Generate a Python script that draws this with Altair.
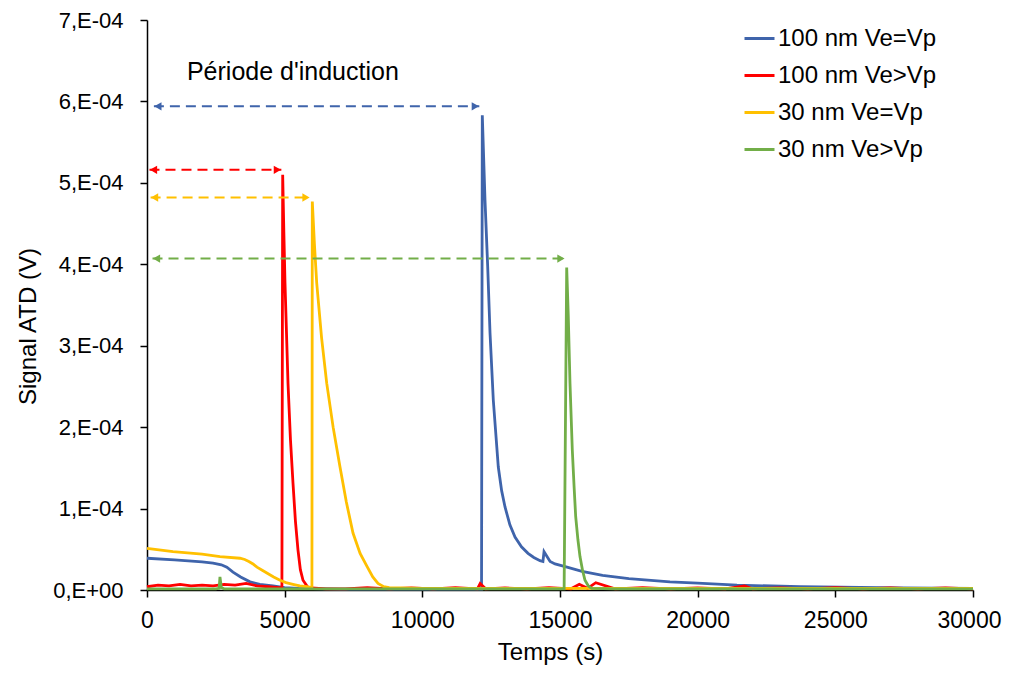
import altair as alt
import pandas as pd

FONT = "Liberation Sans"
SERIES = ["100 nm Ve=Vp", "100 nm Ve>Vp", "30 nm Ve=Vp", "30 nm Ve>Vp"]
COLORS = ["#3F64AB", "#FF0000", "#FFC000", "#72AE48"]

X_TICKS = [0, 5000, 10000, 15000, 20000, 25000, 30000]
Y_TICKS = [0, 1e-4, 2e-4, 3e-4, 4e-4, 5e-4, 6e-4, 7e-4]

blue_t = [0, 1000, 2000, 2400, 2700, 2900, 3124, 3400, 3741, 4100, 4576, 5000, 5500, 7000, 9000, 12150,
          12178, 12276, 12374, 12458, 12578, 12759, 12880, 13003, 13180, 13366, 13600, 13838, 14050,
          14274, 14380, 14420, 14640, 14819, 15254, 15800, 16547, 17500, 18995, 20000, 21429, 23717,
          27350, 30000]
blue_v = [3.9e-5, 3.7e-5, 3.45e-5, 3.3e-5, 3.1e-5, 2.8e-5, 2.2e-5, 1.6e-5, 1.0e-5, 7e-6, 5e-6, 3e-6, 2e-6,
          1e-6, 1e-6, 1e-6,
          5.83e-4, 4.79e-4, 3.97e-4, 3.16e-4, 2.33e-4, 1.51e-4, 1.22e-4, 1.02e-4, 8.0e-5, 6.5e-5, 5.3e-5,
          4.5e-5, 4.0e-5, 3.6e-5, 3.5e-5, 4.7e-5, 3.5e-5, 3.2e-5, 2.8e-5, 2.3e-5, 1.8e-5, 1.4e-5, 1.0e-5,
          8.5e-6, 6e-6, 4e-6, 2.5e-6, 2e-6]

red_t = [0, 400, 800, 1200, 1600, 2000, 2400, 2800, 3200, 3600, 4000, 4400, 4800, 4900,
         4928, 4970, 5012, 5121, 5210, 5303, 5390, 5484, 5570, 5666, 5850,
         6500, 7200, 8000, 8800, 9600, 10400, 11200, 12000, 12100, 12300, 13000, 13800, 14600,
         15400, 15700, 16000, 16300, 17000, 18000, 19000, 20000, 21000, 21700, 22000, 23000,
         24000, 25000, 26000, 27000, 28000, 29000, 30000]
red_v = [4e-6, 6e-6, 5e-6, 7e-6, 5e-6, 6e-6, 5e-6, 7e-6, 6e-6, 8e-6, 5e-6, 4e-6, 3e-6, 3e-6,
         5.1e-4, 4.4e-4, 3.77e-4, 2.54e-4, 1.85e-4, 1.31e-4, 8.5e-5, 4.9e-5, 2.5e-5, 1.2e-5, 3e-6,
         1.5e-6, 1.5e-6, 3e-6, 1.5e-6, 2.5e-6, 1.5e-6, 3e-6, 1.5e-6, 8e-6, 1.5e-6, 2.5e-6, 1.5e-6, 3e-6,
         1.5e-6, 7e-6, 2e-6, 9e-6, 1.5e-6, 3e-6, 1.5e-6, 2.5e-6, 1.5e-6, 5e-6, 1.5e-6, 2.5e-6,
         1.5e-6, 3e-6, 1.5e-6, 2.5e-6, 1.5e-6, 2.5e-6, 1.5e-6]

yellow_t = [0, 944, 2000, 2651, 3378, 3550, 3700, 3850, 3995, 4200, 4400, 4600, 4830, 5050, 5300,
            5550, 5811, 5990,
            6004, 6080, 6164, 6340, 6527, 6760, 7010, 7240, 7482, 7740, 7990, 8200, 8390, 8600, 8800,
            10000, 20000, 30000]
yellow_v = [5.1e-5, 4.7e-5, 4.4e-5, 4.1e-5, 3.9e-5, 3.75e-5, 3.5e-5, 3.2e-5, 2.8e-5, 2.4e-5, 2.0e-5,
            1.6e-5, 1.2e-5, 9e-6, 7e-6, 5e-6, 4e-6, 3e-6,
            4.77e-4, 4.25e-4, 3.77e-4, 3.1e-4, 2.54e-4, 2.0e-4, 1.51e-4, 1.08e-4, 7.0e-5, 4.5e-5, 2.9e-5,
            1.6e-5, 8e-6, 4e-6, 3e-6, 2e-6, 2e-6, 2e-6]

green_t = [0, 2500, 2620, 2650, 2700, 2800, 5000, 10000, 15150,
           15243, 15301, 15363, 15447, 15510, 15570, 15650, 15726, 15820, 15908, 16030, 16151,
           17000, 20000, 25000, 30000]
green_v = [1.5e-6, 1.5e-6, 2e-6, 1.6e-5, 3e-6, 1.5e-6, 1.5e-6, 1.5e-6, 1.5e-6,
           3.96e-4, 3.36e-4, 2.54e-4, 1.72e-4, 1.28e-4, 9.0e-5, 6.2e-5, 4.1e-5, 2.4e-5, 1.2e-5, 5e-6, 2e-6,
           1.5e-6, 1.5e-6, 1.5e-6, 1.5e-6]

# induction-period arrows
arrow_y = [5.94e-4, 5.16e-4, 4.82e-4, 4.07e-4]
arrow_left = [250, 90, 130, 200]
arrow_right = [12070, 4880, 5920, 15180]

xscale = alt.Scale(domain=[0, 30000], nice=False)
yscale = alt.Scale(domain=[0, 7e-4], nice=False)
cscale = alt.Scale(domain=SERIES, range=COLORS)

x_enc = alt.X("Temps:Q", scale=xscale,
              axis=alt.Axis(values=X_TICKS, title="Temps (s)", format="d", titleX=403,
                            labelOffset={"condition": {"test": "datum.value == 30000", "value": -4},
                                         "value": 0}))
y_enc = alt.Y("Signal:Q", scale=yscale,
              axis=alt.Axis(values=Y_TICKS, title="Signal ATD (V)", titleY=306,
                            labelExpr="datum.value == 0 ? '0,E+00' : round(datum.value*1e4) + ',E-04'"))
legend = alt.Legend(title=None, orient="none", legendX=596, legendY=2,
                    symbolType="stroke", symbolSize=900, symbolStrokeWidth=3,
                    labelFont=FONT, labelFontSize=24, labelColor="black",
                    labelOffset=2, rowPadding=8, padding=0, labelLimit=400)

layers = []
for name, ts, vs in zip(SERIES, [blue_t, red_t, yellow_t, green_t], [blue_v, red_v, yellow_v, green_v]):
    d = pd.DataFrame({"Temps": ts, "Signal": vs, "Serie": [name] * len(ts), "idx": list(range(len(ts)))})
    layers.append(
        alt.Chart(d).mark_line(strokeWidth=2.8).encode(
            x=x_enc, y=y_enc,
            color=alt.Color("Serie:N", scale=cscale, legend=legend),
            order="idx:Q",
        )
    )

arrows = pd.DataFrame({"y": arrow_y, "x1": arrow_left, "x2": arrow_right, "col": COLORS})
rules = alt.Chart(arrows).mark_rule(strokeDash=[10, 6], strokeWidth=2).encode(
    x="x1:Q", x2="x2:Q", y="y:Q", color=alt.Color("col:N", scale=None)
)
left_heads = alt.Chart(arrows).mark_point(shape="triangle-left", filled=True, opacity=1,
                                          size=70, xOffset=4).encode(
    x="x1:Q", y="y:Q", color=alt.Color("col:N", scale=None)
)
right_heads = alt.Chart(arrows).mark_point(shape="triangle-right", filled=True, opacity=1,
                                           size=70, xOffset=-4).encode(
    x="x2:Q", y="y:Q", color=alt.Color("col:N", scale=None)
)
label = alt.Chart(pd.DataFrame({"t": ["Période d'induction"]})).mark_text(
    align="left", baseline="middle", font=FONT, fontSize=25, color="black"
).encode(x=alt.datum(1450), y=alt.datum(6.36e-4), text="t:N")

chart = alt.layer(*layers, rules, left_heads, right_heads, label).properties(
    width=826, height=570,
    autosize=alt.AutoSizeParams(type="none"),
    padding={"left": 139, "top": 12, "right": 30, "bottom": 75},
).configure_view(stroke=None).configure_axis(
    grid=False, domainColor="black", domainWidth=1.5, tickColor="black", tickWidth=1.5,
    tickSize=7, labelFont=FONT, labelFontSize=23, labelColor="black",
    titleFont=FONT, titleFontSize=24, titleFontWeight="normal", titleColor="black",
).configure_axisX(labelFlush=False, labelPadding=12, titlePadding=8
).configure_axisY(labelPadding=17, titlePadding=12, labelFontSize=22)

chart.save("out.html", embed_options={"renderer": "svg", "actions": False})
